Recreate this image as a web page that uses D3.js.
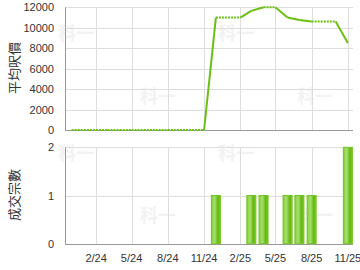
<!DOCTYPE html>
<html>
<head>
<meta charset="utf-8">
<script src="https://cdn.jsdelivr.net/npm/d3@7"></script>
<style>
  body { margin: 0; background: #fff; }
  #graph { width: 360px; height: 270px; }
  text { font-family: Arial, "Liberation Sans", sans-serif; }
</style>
</head>
<body>
<div id="graph"></div>
<script>
// monthly data, Dec 2023 .. Nov 2025 (null = no deal that month)
const months = ["2023-12","2024-01","2024-02","2024-03","2024-04","2024-05","2024-06","2024-07",
    "2024-08","2024-09","2024-10","2024-11","2024-12","2025-01","2025-02","2025-03",
    "2025-04","2025-05","2025-06","2025-07","2025-08","2025-09","2025-10","2025-11"];
const avgPrice = [null,null,null,null,null,null,null,null,
    null,null,null,null,11000,null,null,11650,
    12000,null,11000,10750,10600,null,null,8500];
const dealCount = [0,0,0,0,0,0,0,0,
    0,0,0,0,1,0,0,1,
    1,0,1,1,1,0,0,2];
const priceTicks = [0, 2000, 4000, 6000, 8000, 10000, 12000];
const countTicks = [0, 1, 2];
const tickMonths = ["2024-02","2024-05","2024-08","2024-11","2025-02","2025-05","2025-08","2025-11"];

const parseMonth = d3.timeParse("%Y-%m");
const W = 360, H = 270;
const left = 65, right = 353;
const green = "#6abf14";

function main() {
    const svg = d3.select("#graph").append("svg")
        .attr("width", W).attr("height", H);

    const defs = svg.append("defs");
    const grad = defs.append("linearGradient").attr("id", "barGrad")
        .attr("x1", "0%").attr("x2", "100%").attr("y1", "0%").attr("y2", "0%");
    grad.append("stop").attr("offset", "0%").attr("stop-color", "#7fcf2e");
    grad.append("stop").attr("offset", "35%").attr("stop-color", "#a8e070");
    grad.append("stop").attr("offset", "75%").attr("stop-color", "#62b60c");
    grad.append("stop").attr("offset", "100%").attr("stop-color", "#7fcf2e");

    const x = d3.scaleTime()
        .domain([new Date(2023, 10, 14), new Date(2025, 10, 14)])
        .range([left, right]);
    const yTop = d3.scaleLinear().domain([0, 12000]).range([130, 7.3]);
    const yBot = d3.scaleLinear().domain([0, 2]).range([243.7, 147.3]);

    // watermarks
    const wm = [[76, 40], [158, 103], [236, 40], [315, 103], [76, 160], [158, 222], [236, 160], [315, 222]];
    svg.append("g").selectAll("text").data(wm).join("text")
        .attr("x", d => d[0]).attr("y", d => d[1])
        .attr("text-anchor", "middle")
        .attr("fill", "#f2f2f2")
        .style("font", "bold 18px 'Noto Sans CJK TC'")
        .text("科一");

    drawPanel(svg, x, yTop, priceTicks, d => d, false);
    drawPanel(svg, x, yBot, countTicks, d => d, true);

    // bars
    const rows = months.map((m, i) => ({ date: parseMonth(m), count: dealCount[i], price: avgPrice[i] }));
    svg.append("g").selectAll("rect")
        .data(rows.filter(d => d.count > 0))
        .join("rect")
        .attr("x", d => x(d.date) - 4.5)
        .attr("width", 9)
        .attr("y", d => yBot(d.count))
        .attr("height", d => yBot(0) - yBot(d.count))
        .attr("fill", "url(#barGrad)")
        .attr("stroke", "#72c41f")
        .attr("stroke-width", 1);

    // price line: solid into a month with data, dotted where value is carried
    let carry = 0;
    const segs = [];
    for (let i = 1; i < rows.length; i++) {
        const prev = rows[i - 1].price != null ? rows[i - 1].price : carry;
        if (rows[i - 1].price != null) carry = rows[i - 1].price;
        const cur = rows[i].price;
        if (cur != null) {
            segs.push({ a: [rows[i - 1].date, prev], b: [rows[i].date, cur], dotted: false });
        } else {
            segs.push({ a: [rows[i - 1].date, prev], b: [rows[i].date, prev], dotted: true });
        }
    }
    svg.append("g").selectAll("line").data(segs).join("line")
        .attr("x1", d => x(d.a[0])).attr("y1", d => yTop(d.a[1]))
        .attr("x2", d => x(d.b[0])).attr("y2", d => yTop(d.b[1]))
        .attr("stroke", green)
        .attr("stroke-width", 2)
        .attr("stroke-linecap", "butt")
        .attr("stroke-dasharray", d => d.dotted ? "2,1" : null);

    // x labels
    svg.append("g").selectAll("text").data(tickMonths).join("text")
        .attr("x", d => x(parseMonth(d)))
        .attr("y", 262)
        .attr("text-anchor", "middle")
        .attr("fill", "#333")
        .style("font-size", "11px")
        .text(d => d3.timeFormat("%-m/%y")(parseMonth(d)));

    // axis titles
    svg.append("text")
        .attr("transform", "translate(19,68) rotate(-90)")
        .attr("text-anchor", "middle")
        .attr("fill", "#333")
        .style("font", "13px 'Noto Sans CJK TC'")
        .text("平均呎價");
    svg.append("text")
        .attr("transform", "translate(19,195) rotate(-90)")
        .attr("text-anchor", "middle")
        .attr("fill", "#333")
        .style("font", "13px 'Noto Sans CJK TC'")
        .text("成交宗數");
}

function drawPanel(svg, x, y, ticks, fmt) {
    const g = svg.append("g");
    const [y0, y1] = y.range();
    // vertical grid
    g.selectAll(".vg").data(tickMonths).join("line")
        .attr("x1", d => Math.round(x(parseMonth(d))) + 0.5)
        .attr("x2", d => Math.round(x(parseMonth(d))) + 0.5)
        .attr("y1", y1).attr("y2", y0)
        .attr("stroke", "#ddd");
    // horizontal grid
    g.selectAll(".hg").data(ticks).join("line")
        .attr("x1", left).attr("x2", right)
        .attr("y1", d => Math.round(y(d)) + 0.5)
        .attr("y2", d => Math.round(y(d)) + 0.5)
        .attr("stroke", "#ddd");
    // axes
    g.append("line").attr("x1", left + 0.5).attr("x2", left + 0.5)
        .attr("y1", y1).attr("y2", y0 + 1).attr("stroke", "#999");
    g.append("line").attr("x1", left).attr("x2", right)
        .attr("y1", Math.round(y0) + 0.5).attr("y2", Math.round(y0) + 0.5).attr("stroke", "#999");
    // tick labels
    g.selectAll(".tl").data(ticks).join("text")
        .attr("x", 54)
        .attr("y", d => y(d) + 4)
        .attr("text-anchor", "end")
        .attr("fill", "#333")
        .style("font-size", "11px")
        .text(d => fmt(d));
}

main();
</script>
</body>
</html>
